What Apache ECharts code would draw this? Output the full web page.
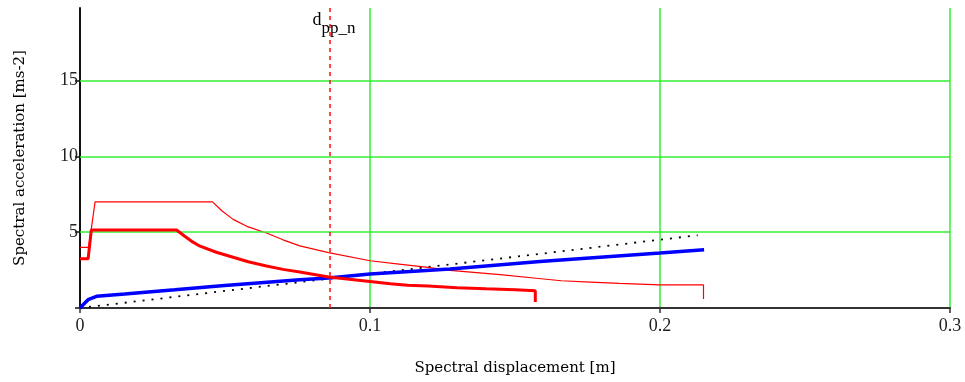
<!DOCTYPE html>
<html>
<head>
<meta charset="utf-8">
<script src="https://cdn.jsdelivr.net/npm/echarts@6/dist/echarts.min.js"></script>
<style>
html,body{margin:0;padding:0;background:#fff;}
#chart{width:965px;height:382px;}
</style>
</head>
<body>
<div id="chart"></div>
<script>
// ---- data ----
const xTicks = [0, 0.1, 0.2, 0.3];
const yGridValues = [5, 10, 15];
const dppN = 0.0862;

// thin red: elastic demand spectrum (Sd [m], Sa [m/s2])
const elasticSpectrum = [
  [0, 4.0], [0.003, 4.0], [0.0052, 7.0], [0.0457, 7.0], [0.049, 6.4], [0.0528, 5.85],
  [0.058, 5.35], [0.0643, 4.95], [0.07, 4.5], [0.0758, 4.1], [0.0857, 3.66], [0.1, 3.12],
  [0.11, 2.9], [0.12, 2.68], [0.1276, 2.48], [0.1449, 2.2], [0.159, 1.93], [0.166, 1.8],
  [0.176, 1.71], [0.186, 1.62], [0.2, 1.52], [0.215, 1.52], [0.215, 0.6]
];
// thick red: inelastic demand spectrum
const inelasticSpectrum = [
  [0, 3.25], [0.0028, 3.25], [0.0039, 5.15], [0.0333, 5.15], [0.036, 4.75], [0.0385, 4.4],
  [0.0414, 4.08], [0.047, 3.68], [0.0528, 3.35], [0.058, 3.05], [0.0643, 2.77], [0.07, 2.55],
  [0.0758, 2.37], [0.0857, 2.04], [0.1, 1.75], [0.107, 1.6], [0.113, 1.5], [0.12, 1.45],
  [0.13, 1.34], [0.14, 1.27], [0.15, 1.21], [0.157, 1.14], [0.157, 0.4]
];
// blue: capacity curve
const capacityCurve = [
  [0, 0], [0.0015, 0.3], [0.0028, 0.55], [0.0057, 0.77], [0.0154, 0.92], [0.0327, 1.2],
  [0.0488, 1.47], [0.0758, 1.87], [0.0857, 1.98], [0.1, 2.24], [0.1276, 2.57],
  [0.1586, 3.07], [0.2, 3.63], [0.2152, 3.84]
];
// black dotted: idealised elastic line
const elasticLine = [[0, 0], [0.213, 4.8]];

const serif = 'Liberation Serif';
const chart = echarts.init(document.getElementById('chart'), null, {renderer: 'canvas'});
chart.setOption({
  animation: false,
  backgroundColor: '#ffffff',
  grid: {left: 80, right: 15, top: 8, bottom: 74},
  xAxis: {
    type: 'value', min: 0, max: 0.3, interval: 0.1,
    name: 'Spectral displacement [m]', nameLocation: 'middle', nameGap: 53,
    nameTextStyle: {fontFamily: 'DejaVu Serif', fontSize: 15, color: '#000'},
    axisLine: {show: true, onZero: false, lineStyle: {color: '#333', width: 2}},
    axisTick: {show: true, length: 5, lineStyle: {color: '#333', width: 1.5}},
    axisLabel: {fontFamily: serif, fontSize: 18, color: '#222', margin: 9,
      formatter: v => (xTicks.some(t => Math.abs(t - v) < 1e-9) ? String(+v.toFixed(1)) : '')},
    splitLine: {show: true, lineStyle: {color: '#33f033', width: 1.5}}
  },
  yAxis: {
    type: 'value', min: 0, max: 19.8, interval: 5,
    name: 'Spectral acceleration [ms-2]', nameLocation: 'middle', nameGap: 52,
    nameTextStyle: {fontFamily: 'DejaVu Serif', fontSize: 15, color: '#000'},
    axisLine: {show: true, onZero: false, lineStyle: {color: '#111', width: 2}},
    axisTick: {show: true, length: 5, customValues: [0, 5, 10, 15], lineStyle: {color: '#111', width: 1.5}},
    axisLabel: {fontFamily: serif, fontSize: 18, color: '#222', margin: 2,
      customValues: yGridValues,
      formatter: v => (yGridValues.indexOf(v) >= 0 ? String(v) : '')},
    splitLine: {show: false}
  },
  series: [
    {
      name: 'grid', type: 'line', data: [], z: 1, silent: true,
      markLine: {
        silent: true, symbol: 'none', animation: false, precision: 6,
        lineStyle: {color: '#33f033', width: 1.5, type: 'solid'},
        label: {show: false},
        data: yGridValues.map(v => ({yAxis: v}))
      }
    },
    {
      name: 'elastic line', type: 'line', data: elasticLine, z: 3, showSymbol: false, symbol: 'none',
      lineStyle: {color: '#000', width: 1.8, type: [2, 7]}
    },
    {
      name: 'elastic spectrum', type: 'line', data: elasticSpectrum, z: 4, showSymbol: false, symbol: 'none',
      lineStyle: {color: '#ff0000', width: 1.2}
    },
    {
      name: 'capacity', type: 'line', data: capacityCurve, z: 4, showSymbol: false, symbol: 'none',
      lineStyle: {color: '#0000ff', width: 3.5}
    },
    {
      name: 'inelastic spectrum', type: 'line', data: inelasticSpectrum, z: 5, showSymbol: false, symbol: 'none',
      lineStyle: {color: '#ff0000', width: 3}
    },
    {
      name: 'dpp', type: 'line', data: [], z: 6, silent: true,
      markLine: {
        silent: true, symbol: 'none', animation: false, precision: 6,
        lineStyle: {color: '#ff1a1a', width: 1.6, type: [4, 4]},
        label: {show: false},
        data: [{xAxis: dppN}]
      },
      markPoint: {
        silent: true, symbol: 'circle', symbolSize: 0, animation: false,
        data: [{coord: [dppN, 18.7]}],
        label: {
          show: true, position: 'inside', offset: [4, 0],
          formatter: '{d|d}{s|pp_n}',
          rich: {
            d: {fontFamily: serif, fontSize: 18, color: '#000', padding: [0, 0, 8, 0]},
            s: {fontFamily: serif, fontSize: 17, color: '#000', padding: [8, 0, 0, 0]}
          }
        }
      }
    }
  ]
});
</script>
</body>
</html>
